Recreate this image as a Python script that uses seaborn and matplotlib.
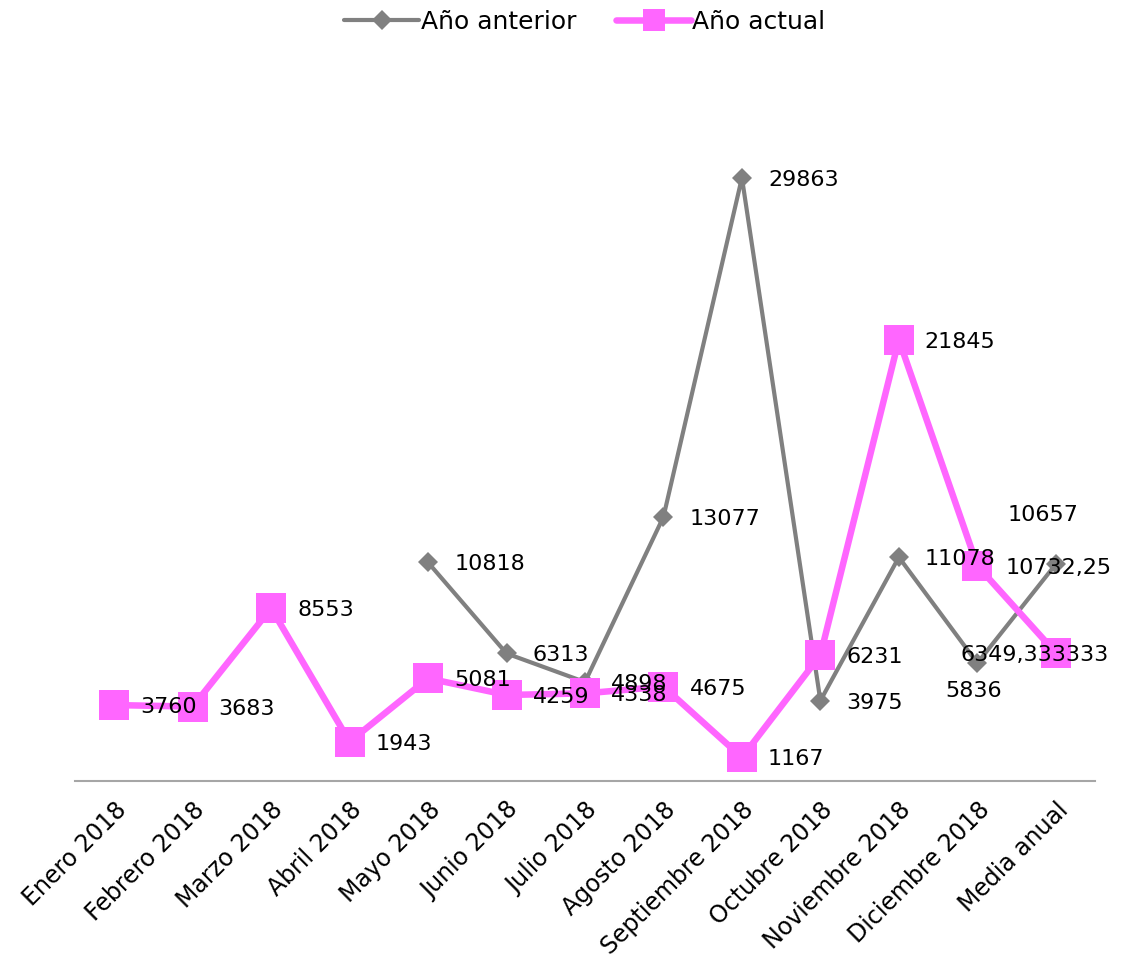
import numpy as np
import pandas as pd
import seaborn as sns
import matplotlib
matplotlib.use("Agg")
import matplotlib.pyplot as plt

categories = ["Enero 2018", "Febrero 2018", "Marzo 2018", "Abril 2018", "Mayo 2018",
              "Junio 2018", "Julio 2018", "Agosto 2018", "Septiembre 2018",
              "Octubre 2018", "Noviembre 2018", "Diciembre 2018", "Media anual"]
anterior = [np.nan, np.nan, np.nan, np.nan, 10818, 6313, 4898, 13077, 29863,
            3975, 11078, 5836, 10732.25]
actual = [3760, 3683, 8553, 1943, 5081, 4259, 4338, 4675, 1167,
          6231, 21845, 10657, 6349.333333]
series_names = ["Año anterior", "Año actual"]

GRAY = "#808080"
PINK = "#FF66FF"

sns.set_theme(style="white")
plt.rcParams["font.family"] = ["DejaVu Sans"]

df = pd.DataFrame({"mes": categories, series_names[0]: anterior, series_names[1]: actual})

fig = plt.figure(figsize=(11.23, 9.72), dpi=100)
ax = fig.add_axes([75 / 1123, 1 - 781 / 972, 1020 / 1123, 707 / 972])

sns.lineplot(data=df, x="mes", y=series_names[0], ax=ax, sort=False, color=GRAY,
             linewidth=3, marker="D", markersize=10, markeredgewidth=0,
             label=series_names[0])
sns.lineplot(data=df, x="mes", y=series_names[1], ax=ax, sort=False, color=PINK,
             linewidth=4.7, marker="s", markersize=22, markeredgewidth=0,
             label=series_names[1])

ax.set_xlim(-0.5, len(categories) - 0.5)
ax.set_ylim(0, 35000)


def fmt(v):
    if float(v).is_integer():
        return f"{int(v)}"
    s = f"{v:.6f}".rstrip("0")
    return s.replace(".", ",")


# label offsets in pixels (dx, dy); default is to the right of the point
default_off = (26, -2)
special_off = {
    (0, 11): (-32, -28),   # Diciembre, año anterior: below
    (0, 12): (-50, -4),    # Media anual, año anterior
    (1, 11): (30, 51),     # Diciembre, año actual: above
    (1, 12): (-95, -2),    # Media anual, año actual
}
for s, values in enumerate([anterior, actual]):
    for i, v in enumerate(values):
        if np.isnan(v):
            continue
        dx, dy = special_off.get((s, i), default_off)
        ax.annotate(fmt(v), xy=(categories[i], v), xytext=(dx, dy),
                    textcoords="offset pixels", ha="left", va="center",
                    fontsize=16, color="#000000", zorder=5)

ax.set_xlabel("")
ax.set_ylabel("")
ax.set_yticks([])
ax.tick_params(axis="x", length=0, pad=12)
plt.setp(ax.get_xticklabels(), rotation=45, ha="right", rotation_mode="anchor",
         fontsize=17, color="#000000")
for side in ["top", "left", "right"]:
    ax.spines[side].set_visible(False)
ax.spines["bottom"].set_color("#A6A6A6")
ax.spines["bottom"].set_linewidth(1.5)

leg = ax.legend(loc="center", bbox_to_anchor=(0.5, 1 + (74 - 22) / 707), ncol=2,
                frameon=False, fontsize=18, handlelength=3.0, handletextpad=0.05,
                columnspacing=1.6)
for txt in leg.get_texts():
    txt.set_color("#000000")
leg.legend_handles[1].set_markersize(16)

fig.savefig("out.png", dpi=100, facecolor="white")
